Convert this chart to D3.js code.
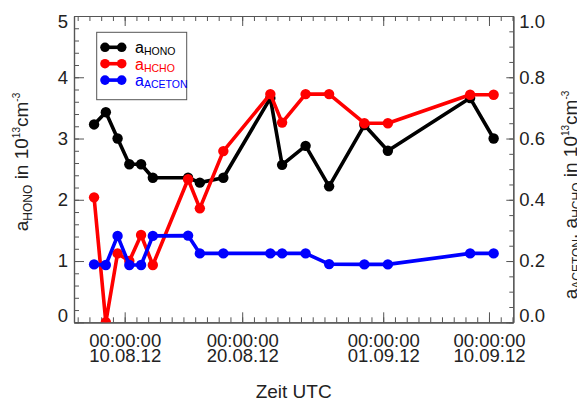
<!DOCTYPE html>
<html>
<head>
<meta charset="utf-8">
<script src="https://cdn.jsdelivr.net/npm/d3@7"></script>
<style>
  body { margin: 0; background: #fff; }
  svg { display: block; font-family: "Liberation Sans", Arial, sans-serif; }
</style>
</head>
<body>
<svg id="chart" width="577" height="401"></svg>
<script>
// sample times (UTC) and values
const times = ["2012-08-07T09:30:00Z","2012-08-08T09:30:00Z","2012-08-09T09:30:00Z","2012-08-10T09:30:00Z",
  "2012-08-11T09:30:00Z","2012-08-12T09:30:00Z","2012-08-15T09:30:00Z","2012-08-16T09:30:00Z",
  "2012-08-18T09:30:00Z","2012-08-22T09:30:00Z","2012-08-23T09:30:00Z","2012-08-25T09:30:00Z",
  "2012-08-27T09:30:00Z","2012-08-30T09:30:00Z","2012-09-01T09:30:00Z","2012-09-08T09:30:00Z",
  "2012-09-10T09:30:00Z"];
const hono   = [3.23, 3.43, 3.0, 2.58, 2.58, 2.36, 2.36, 2.28, 2.36, 3.66, 2.57, 2.88, 2.22, 3.22, 2.80, 3.66, 3.0];
const hcho   = [0.408, 0.0, 0.225, 0.20, 0.285, 0.187, 0.467, 0.372, 0.559, 0.745, 0.652, 0.745, 0.745, 0.65, 0.65, 0.743, 0.743];
const aceton = [0.189, 0.187, 0.282, 0.187, 0.187, 0.282, 0.283, 0.225, 0.225, 0.225, 0.225, 0.225, 0.19, 0.189, 0.189, 0.225, 0.225];

const xDomain = ["2012-08-05T16:30:00Z", "2012-09-12T01:40:00Z"];
const majorDates = ["2012-08-10T00:00:00Z","2012-08-20T00:00:00Z","2012-09-01T00:00:00Z","2012-09-10T00:00:00Z"];
const leftTicks = [0, 1, 2, 3, 4, 5];
const rightTicks = [0, 0.2, 0.4, 0.6, 0.8, 1.0];

const series = [
  {name: "HONO", values: hono, color: "#000000", axis: "left"},
  {name: "HCHO", values: hcho, color: "#ff0000", axis: "right"},
  {name: "ACETON", values: aceton, color: "#0000ff", axis: "right"}
];

const plot = {left: 74, right: 513.3, top: 16, bottom: 322.3};
const axisColor = "#555";
const textColor = "#222";

const svg = d3.select("#chart");

const x = d3.scaleUtc().domain(xDomain.map(d => new Date(d))).range([plot.left, plot.right]);
const yL = d3.scaleLinear().domain([0, 5]).range([plot.bottom, plot.top]);
const yR = d3.scaleLinear().domain([0, 1]).range([plot.bottom, plot.top]);

const majors = majorDates.map(d => new Date(d));
const days = d3.utcDay.range(d3.utcDay.ceil(x.domain()[0]), x.domain()[1]);
const fmtTime = d3.utcFormat("%H:%M:%S");
const fmtDate = d3.utcFormat("%d.%m.%y");

function styleAxis(g) {
  g.selectAll("path.domain").attr("stroke", axisColor).attr("stroke-width", 1.2);
  g.selectAll(".tick line").attr("stroke", axisColor).attr("stroke-width", 1);
  g.selectAll(".tick text").attr("fill", textColor).attr("font-size", 18.5);
}

// bottom axis: daily minor ticks, labelled majors
svg.append("g")
  .attr("transform", `translate(0,${plot.bottom})`)
  .call(d3.axisBottom(x).tickValues(days).tickSizeInner(-5).tickSizeOuter(0).tickFormat(""))
  .call(styleAxis);
const bottomMajor = svg.append("g")
  .attr("transform", `translate(0,${plot.bottom})`)
  .call(d3.axisBottom(x).tickValues(majors).tickSizeInner(-10).tickSizeOuter(0).tickFormat(""))
  .call(styleAxis);
bottomMajor.selectAll(".tick").append("text")
  .attr("text-anchor", "middle").attr("fill", textColor).attr("font-size", 18.5)
  .each(function(d) {
    const t = d3.select(this);
    t.append("tspan").attr("x", 0).attr("y", 25).text(fmtTime(d));
    t.append("tspan").attr("x", 0).attr("y", 40).text(fmtDate(d));
  });

// top axis, ticks only
svg.append("g")
  .attr("transform", `translate(0,${plot.top})`)
  .call(d3.axisTop(x).tickValues(days).tickSizeInner(-5).tickSizeOuter(0).tickFormat(""))
  .call(styleAxis);
svg.append("g")
  .attr("transform", `translate(0,${plot.top})`)
  .call(d3.axisTop(x).tickValues(majors).tickSizeInner(-10).tickSizeOuter(0).tickFormat(""))
  .call(styleAxis);

// left axis
svg.append("g")
  .attr("transform", `translate(${plot.left},0)`)
  .call(d3.axisLeft(yL).tickValues(d3.range(0, 5.01, 0.2)).tickSizeInner(-5).tickSizeOuter(0).tickFormat(""))
  .call(styleAxis);
const leftMajor = svg.append("g")
  .attr("transform", `translate(${plot.left},0)`)
  .call(d3.axisLeft(yL).tickValues(leftTicks).tickSizeInner(-10).tickSizeOuter(0).tickPadding(6).tickFormat(d3.format("d")))
  .call(styleAxis);
leftMajor.selectAll(".tick text").attr("dy", d => d === 0 ? "-0.05em" : d === 5 ? "0.62em" : "0.32em");

// right axis
svg.append("g")
  .attr("transform", `translate(${plot.right},0)`)
  .call(d3.axisRight(yR).tickValues(d3.range(0, 1.001, 0.05)).tickSizeInner(-4).tickSizeOuter(0).tickFormat(""))
  .call(styleAxis);
const rightMajor = svg.append("g")
  .attr("transform", `translate(${plot.right},0)`)
  .call(d3.axisRight(yR).tickValues(rightTicks).tickSizeInner(-7).tickSizeOuter(0).tickPadding(6).tickFormat(d3.format(".1f")))
  .call(styleAxis);
rightMajor.selectAll(".tick text").attr("dy", d => d === 0 ? "-0.05em" : d === 1 ? "0.62em" : "0.32em");

// data
svg.append("defs").append("clipPath").attr("id", "plotclip")
  .append("rect")
  .attr("x", plot.left).attr("y", plot.top)
  .attr("width", plot.right - plot.left).attr("height", plot.bottom - plot.top);

const dataG = svg.append("g").attr("clip-path", "url(#plotclip)");
series.forEach(s => {
  const y = s.axis === "left" ? yL : yR;
  const pts = times.map((t, i) => [x(new Date(t)), y(s.values[i])]);
  dataG.append("path")
    .attr("d", d3.line()(pts))
    .attr("fill", "none")
    .attr("stroke", s.color)
    .attr("stroke-width", 3.6)
    .attr("stroke-linejoin", "round");
  dataG.append("g").selectAll("circle")
    .data(pts)
    .join("circle")
    .attr("cx", d => d[0]).attr("cy", d => d[1])
    .attr("r", 5.2)
    .attr("fill", s.color);
});

// legend
const legend = svg.append("g");
legend.append("rect")
  .attr("x", 96.7).attr("y", 32.3).attr("width", 90).attr("height", 67.4)
  .attr("fill", "#fff").attr("stroke", axisColor).attr("stroke-width", 1);
series.forEach((s, i) => {
  const ly = 47.3 + i * 16.4;
  legend.append("line")
    .attr("x1", 105).attr("x2", 121.7).attr("y1", ly).attr("y2", ly)
    .attr("stroke", s.color).attr("stroke-width", 3.6);
  [105, 121.7].forEach(cx => legend.append("circle")
    .attr("cx", cx).attr("cy", ly).attr("r", 4.8).attr("fill", s.color));
  const t = legend.append("text")
    .attr("x", 135).attr("y", ly + 6).attr("fill", s.color).attr("font-size", 16);
  t.append("tspan").text("a");
  t.append("tspan").attr("font-size", 10.5).attr("dy", 2).text(s.name);
});

// axis titles
function axisTitle(parts, tx, ty) {
  const t = svg.append("text")
    .attr("transform", `translate(${tx},${ty}) rotate(-90)`)
    .attr("text-anchor", "middle").attr("fill", textColor).attr("font-size", 19);
  parts.forEach(p => {
    const sp = t.append("tspan").text(p.text);
    if (p.sub) sp.attr("font-size", 12).attr("dy", p.dy);
    if (p.sup) sp.attr("font-size", 10).attr("dy", p.dy);
    if (p.back) sp.attr("dy", p.dy);
  });
}
axisTitle([
  {text: "a"}, {text: "HONO", sub: true, dy: 4}, {text: " in 10", back: true, dy: -4},
  {text: "13", sup: true, dy: -8}, {text: "cm", back: true, dy: 8}, {text: "-3", sup: true, dy: -8}
], 28, 162);
axisTitle([
  {text: "a"}, {text: "ACETON", sub: true, dy: 4}, {text: ", a", back: true, dy: -4},
  {text: "HCHO", sub: true, dy: 4}, {text: " in 10", back: true, dy: -4},
  {text: "13", sup: true, dy: -8}, {text: "cm", back: true, dy: 8}, {text: "-3", sup: true, dy: -8}
], 577, 195);

svg.append("text")
  .attr("x", (plot.left + plot.right) / 2).attr("y", 398)
  .attr("text-anchor", "middle").attr("fill", textColor).attr("font-size", 19)
  .text("Zeit UTC");
</script>
</body>
</html>
